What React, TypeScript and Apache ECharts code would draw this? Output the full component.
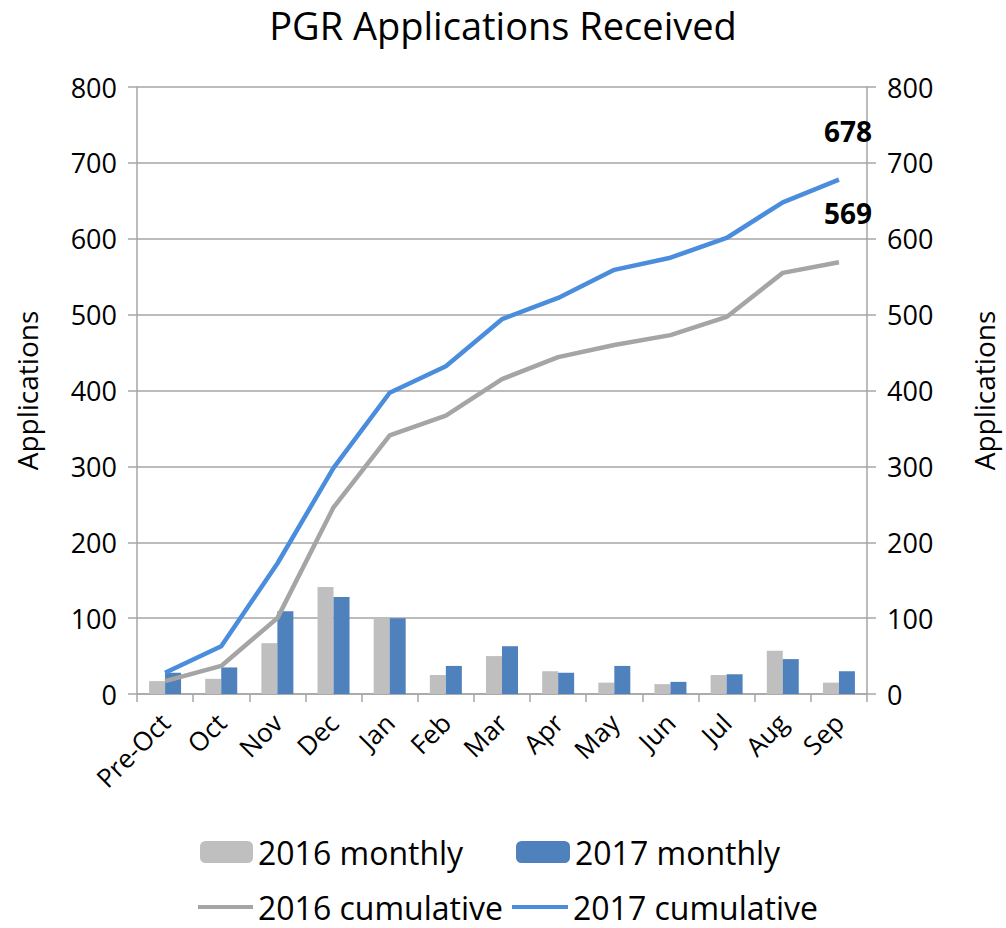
import React, { useEffect, useRef } from "react";
import * as echarts from "echarts";

const categories = ["Pre-Oct", "Oct", "Nov", "Dec", "Jan", "Feb", "Mar", "Apr", "May", "Jun", "Jul", "Aug", "Sep"];
const monthly2016 = [17, 20, 67, 141, 100, 25, 50, 30, 15, 13, 25, 57, 15];
const monthly2017 = [28, 35, 109, 128, 100, 37, 63, 28, 37, 16, 26, 46, 30];
const cumulative2016 = [17, 37, 100, 246, 341, 367, 415, 444, 460, 473, 497, 555, 569];
const cumulative2017 = [28, 63, 172, 298, 397, 432, 494, 522, 559, 575, 601, 648, 678];
const yTicks = { min: 0, max: 800, interval: 100 };

const FONT = "Open Sans";
const AXIS_GRAY = "#A6A6A6";

export default function App() {
  const ref = useRef<HTMLDivElement>(null);
  useEffect(() => {
    if (!ref.current) return;
    const chart = echarts.init(ref.current, undefined, { renderer: "svg" });
    const endLabel = {
      show: true,
      formatter: (p: any) => String(p.value),
      distance: 0,
      align: "center",
      verticalAlign: "middle",
      offset: [9, -49],
      fontFamily: FONT,
      fontSize: 28,
      fontWeight: "bold",
      color: "#000",
    };
    const yAxisBase = {
      type: "value",
      min: yTicks.min,
      max: yTicks.max,
      interval: yTicks.interval,
      name: "Applications",
      nameLocation: "middle",
      nameRotate: 90,
      nameTextStyle: { fontFamily: FONT, fontSize: 28, color: "#000" },
      axisLine: { show: true, lineStyle: { color: AXIS_GRAY, width: 1.5 } },
      axisTick: { show: true, length: 9, lineStyle: { color: AXIS_GRAY, width: 1.5 } },
      axisLabel: { fontFamily: FONT, fontSize: 27, color: "#000", margin: 20 },
    };
    const legendBase = {
      orient: "horizontal",
      itemGap: 0,
      textStyle: { fontFamily: FONT, fontSize: 32, lineHeight: 32, color: "#000" },
      padding: 0,
    };
    chart.setOption({
      animation: false,
      title: {
        text: "PGR Applications Received",
        left: "center",
        top: 1,
        textStyle: { fontFamily: FONT, fontSize: 38, fontWeight: "normal", color: "#000" },
      },
      grid: { left: 137, right: 127, top: 87, height: 607, containLabel: false },
      legend: [
        { ...legendBase, left: 200, top: 836, itemWidth: 53, itemHeight: 22, data: ["2016 monthly"] },
        { ...legendBase, left: 516, top: 836, itemWidth: 54, itemHeight: 22, data: ["2017 monthly"] },
        { ...legendBase, left: 198, top: 891, itemWidth: 55, itemHeight: 4, icon: "rect", data: ["2016 cumulative"] },
        { ...legendBase, left: 512, top: 891, itemWidth: 56, itemHeight: 4, icon: "rect", data: ["2017 cumulative"] },
      ],
      xAxis: {
        type: "category",
        data: categories,
        boundaryGap: true,
        axisLine: { lineStyle: { color: AXIS_GRAY, width: 1.5 } },
        axisTick: { show: true, length: 8, lineStyle: { color: AXIS_GRAY, width: 1.5 } },
        axisLabel: { fontFamily: FONT, fontSize: 26, color: "#000", rotate: 45, margin: 24, interval: 0 },
      },
      yAxis: [
        {
          ...yAxisBase,
          position: "left",
          nameGap: 96,
          splitLine: { show: true, lineStyle: { color: AXIS_GRAY, width: 1.5 } },
        },
        {
          ...yAxisBase,
          position: "right",
          nameGap: 103,
          splitLine: { show: false },
        },
      ],
      series: [
        {
          name: "2016 monthly",
          type: "bar",
          data: monthly2016,
          barWidth: 16,
          barGap: "0%",
          itemStyle: { color: "#BFBFBF" },
        },
        {
          name: "2017 monthly",
          type: "bar",
          data: monthly2017,
          barWidth: 16,
          barGap: "0%",
          itemStyle: { color: "#4F81BD" },
        },
        {
          name: "2016 cumulative",
          type: "line",
          data: cumulative2016,
          symbol: "none",
          lineStyle: { color: "#A5A5A5", width: 4.5 },
          itemStyle: { color: "#A5A5A5" },
          endLabel,
        },
        {
          name: "2017 cumulative",
          type: "line",
          data: cumulative2017,
          symbol: "none",
          lineStyle: { color: "#4A8DDC", width: 4.5 },
          itemStyle: { color: "#4A8DDC" },
          endLabel,
        },
      ],
    });
    return () => chart.dispose();
  }, []);
  return <div ref={ref} style={{ position: "absolute", left: 0, top: 0, width: 1006, height: 928 }} />;
}
